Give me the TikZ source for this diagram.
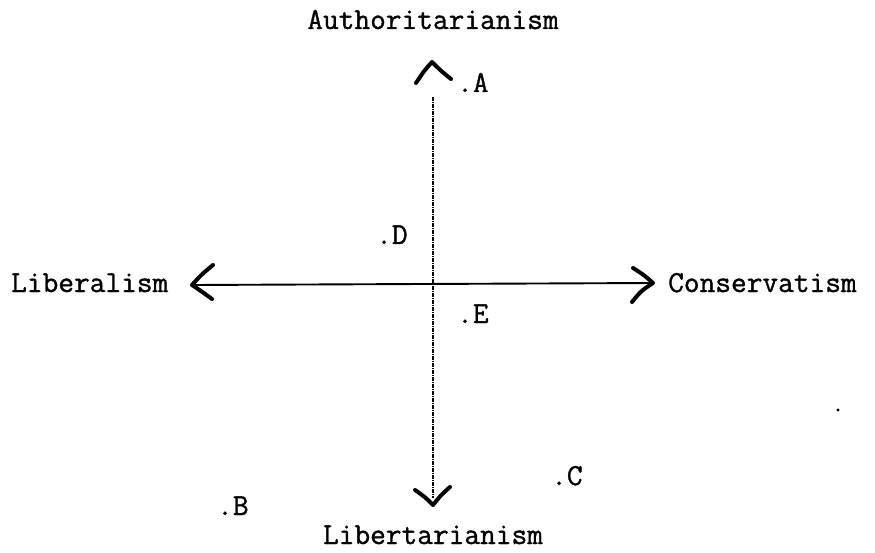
\documentclass[tikz,border=0pt]{standalone}
\usepackage{fontspec}
\newfontfamily\typew[FakeBold=1.1]{Latin Modern Mono}
\begin{document}
\begin{tikzpicture}[x=1pt,y=-1pt,
  lbl/.style={inner sep=0pt,anchor=base,font=\typew\fontsize{30.5}{36}\selectfont},
  pt/.style={inner sep=0pt,anchor=base west,font=\typew\fontsize{30.5}{36}\selectfont},
  chev/.style={line width=4pt,line cap=round,line join=round},
  haxis/.style={line width=1.9pt},
  vaxis/.style={line width=1.3pt,dash pattern=on 4pt off 1pt on 1pt off 1pt}]
\useasboundingbox (0,0) rectangle (875,553);
% axis ends
\coordinate (top) at (432,62);
\coordinate (vstart) at (433,97);
\coordinate (vend) at (433,498);
\coordinate (bot) at (433,505);
\coordinate (lft) at (192,285);
\coordinate (rgt) at (653,283);
% arrow arms
\coordinate (t1) at (416,83);
\coordinate (t2) at (451,79);
\coordinate (b1) at (415,490);
\coordinate (b2) at (450,487);
\coordinate (l1) at (213,265);
\coordinate (l2) at (212,299);
\coordinate (r1) at (633,268);
\coordinate (r2) at (632,302);
% axes
\draw[vaxis] (vstart) -- (vend);
\draw[haxis] (lft) -- (rgt);
% chevron heads
\draw[chev] (t1) .. controls (424,71) .. (top) .. controls (440,70) .. (t2);
\draw[chev] (b1) .. controls (425,497) .. (bot) .. controls (441,495) .. (b2);
\draw[chev] (l1) .. controls (201,275) .. (lft) .. controls (201,291) .. (l2);
\draw[chev] (r1) .. controls (644,275) .. (rgt) .. controls (641,291) .. (r2);
% labels
\node[lbl] (auth) at (433,29) {Authoritarianism};
\node[lbl] (libt) at (433,544) {Libertarianism};
\node[lbl,anchor=base west] (libl) at (11,292) {Liberalism};
\node[lbl,anchor=base west] (cons) at (668,292) {Conservatism};
% points
\node[pt] (pA) at (457,92) {.A};
\node[pt] (pB) at (217,515) {.B};
\node[pt] (pC) at (551,485) {.C};
\node[pt] (pD) at (376,244) {.D};
\node[pt] (pE) at (457,323) {.E};
% stray mark
\fill (838,410) circle (1.6);
\end{tikzpicture}
\end{document}
